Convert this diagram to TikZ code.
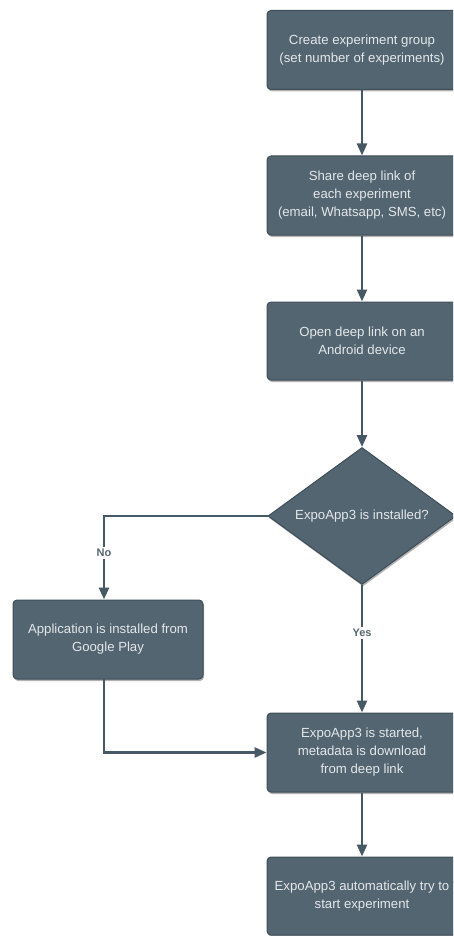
\documentclass[tikz,border=0pt]{standalone}
\usepackage{fontspec}
\setmainfont{Liberation Sans}
\usetikzlibrary{arrows.meta,shapes.geometric,shadows,calc}

\definecolor{boxfill}{HTML}{536571}
\definecolor{boxedge}{HTML}{3E4E59}
\definecolor{linecol}{HTML}{465863}
\definecolor{txtcol}{HTML}{E4E7E9}
\definecolor{lblcol}{HTML}{56676F}

\tikzset{
  stepbox/.style={draw=boxedge, line width=1pt, fill=boxfill, rounded corners=4pt,
    minimum width=190pt, minimum height=79pt, inner sep=0pt,
    text=txtcol, align=center, font=\fontsize{13.2}{18}\selectfont,
    drop shadow={shadow xshift=1pt, shadow yshift=-2pt, opacity=0.3, fill=black}},
  decision/.style={diamond, draw=boxedge, line width=1pt, fill=boxfill,
    minimum width=188pt, minimum height=137pt, inner sep=0pt,
    drop shadow={shadow xshift=1pt, shadow yshift=-2pt, opacity=0.3, fill=black}},
  decisiontext/.style={text=txtcol, font=\fontsize{13.2}{18}\selectfont},
  flow/.style={draw=linecol, line width=2.6pt, -{Triangle[length=12pt,width=10pt]}},
  branch/.style={fill=white, text=lblcol, inner sep=2pt, font=\bfseries\fontsize{11}{13}\selectfont}
}

\begin{document}
\begin{tikzpicture}[x=1pt,y=-1pt]
  \useasboundingbox (0,0) rectangle (453,936);
  \clip (0,0) rectangle (453,936);
  \fill[white] (0,0) rectangle (453,936);

  % process steps
  \node[stepbox] (create) at (362,50) {Create experiment group\\(set number of experiments)};
  \node[stepbox] (share) at (362,195.5) {Share deep link of\\each experiment\\(email, Whatsapp, SMS, etc)};
  \node[stepbox, minimum height=78pt] (open) at (362,341) {Open deep link on an\\Android device};
  \node[decision] (check) at (362,516) {};
  \node[decisiontext] (checktxt) at (check.center) {ExpoApp3 is installed?};
  \node[stepbox] (install) at (108,639.5) {Application is installed from\\Google Play};
  \node[stepbox] (started) at (362,752.5) {ExpoApp3 is started,\\metadata is download\\from deep link};
  \node[stepbox, minimum height=78pt] (auto) at (362,896) {ExpoApp3 automatically try to\\start experiment};

  % routing points
  \coordinate (nocorner) at (104,516);
  \coordinate (installout) at (104,679);
  \coordinate (joincorner) at (104,752.5);

  % connectors
  \draw[flow] (create.south) -- (share.north);
  \draw[flow] (share.south) -- (open.north);
  \draw[flow] (open.south) -- (check.north);
  \draw[flow] (check.west) -- (nocorner) -- (nocorner |- install.north);
  \draw[flow] (check.south) -- (started.north);
  \draw[flow] (installout) -- (joincorner) -- (started.west);
  \draw[flow] (started.south) -- (auto.north);

  % branch labels
  \node[branch] (nolbl) at (104,553) {No};
  \node[branch] (yeslbl) at (362,633) {Yes};
\end{tikzpicture}
\end{document}
